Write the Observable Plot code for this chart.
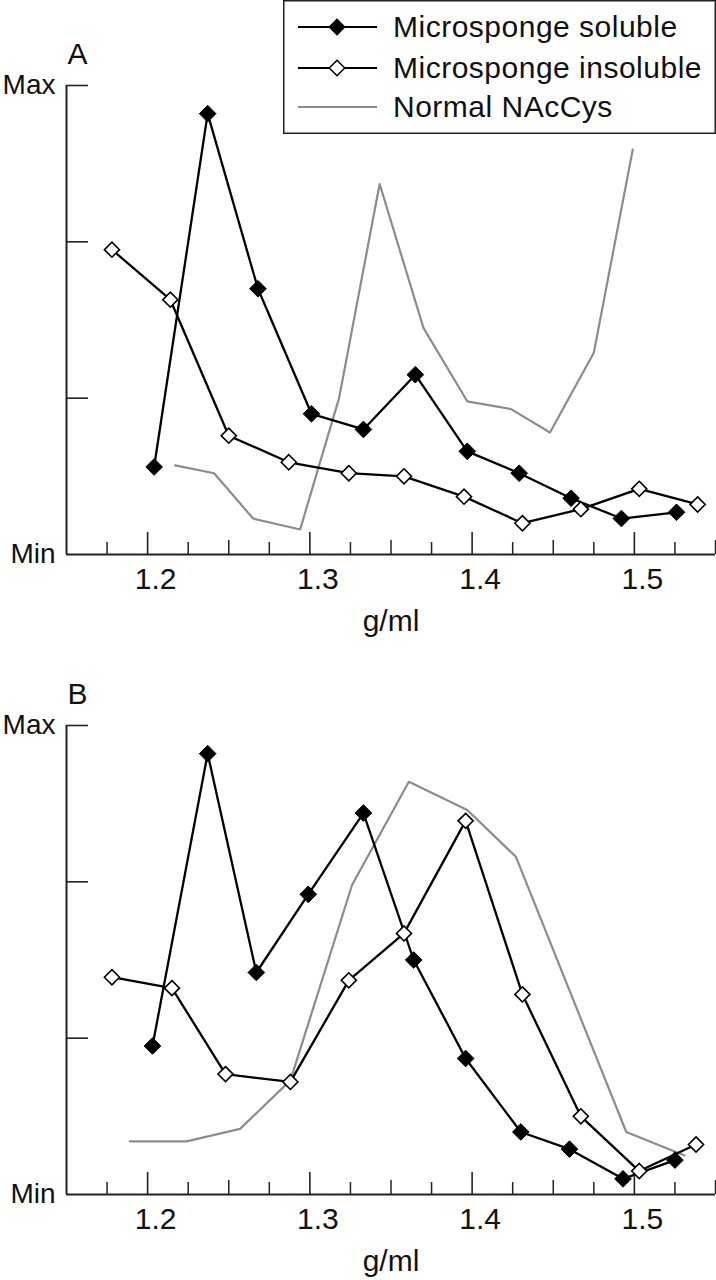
<!DOCTYPE html>
<html>
<head>
<meta charset="utf-8">
<script src="https://cdn.jsdelivr.net/npm/d3@7"></script>
<script src="https://cdn.jsdelivr.net/npm/@observablehq/plot@0.6"></script>
<style>
  html, body { margin: 0; padding: 0; background: #fff; }
  #wrap { position: relative; width: 716px; height: 1280px; overflow: hidden; }
  #wrap svg { display: block; }
  #legend { position: absolute; left: 283px; top: 0; }
</style>
</head>
<body>
<div id="wrap"><div id="legend"></div></div>
<script>
const FONT = '"Liberation Sans", Arial, sans-serif';
const AX = "#222";
const GRAY = "#8c8c8c";

// Axis definitions
const xDomain = [1.15, 1.55];
const yDomain = [0, 3];
const majorTicks = [1.2, 1.3, 1.4, 1.5];
const midTicks = [1.25, 1.35, 1.45, 1.55];
const minorTicks = [1.175, 1.225, 1.275, 1.325, 1.375, 1.425, 1.475, 1.525];
const yTicks = [1, 2, 3];
const yLabelValues = [3, 0];
const yLabelTexts = ["Max", "Min"];
const xLabel = "g/ml";

// Series names
const seriesNames = ["Microsponge soluble", "Microsponge insoluble", "Normal NAcCys"];

// Panel A
const aSolX = [1.204, 1.237, 1.268, 1.301, 1.333, 1.365, 1.397, 1.429, 1.461, 1.492, 1.526];
const aSolY = [0.56, 2.82, 1.70, 0.90, 0.80, 1.15, 0.66, 0.52, 0.36, 0.23, 0.27];
const aInsX = [1.178, 1.214, 1.250, 1.287, 1.324, 1.358, 1.395, 1.431, 1.467, 1.503, 1.539];
const aInsY = [1.95, 1.63, 0.76, 0.59, 0.52, 0.50, 0.37, 0.20, 0.29, 0.42, 0.32];
const aNorX = [1.217, 1.241, 1.265, 1.294, 1.318, 1.343, 1.370, 1.397, 1.424, 1.448, 1.475, 1.499];
const aNorY = [0.57, 0.52, 0.23, 0.16, 1.00, 2.37, 1.45, 0.98, 0.93, 0.78, 1.29, 2.59];

// Panel B
const bSolX = [1.203, 1.237, 1.267, 1.299, 1.333, 1.364, 1.396, 1.430, 1.460, 1.493, 1.525];
const bSolY = [0.95, 2.82, 1.42, 1.92, 2.44, 1.50, 0.87, 0.40, 0.29, 0.10, 0.22];
const bInsX = [1.178, 1.215, 1.248, 1.288, 1.324, 1.358, 1.396, 1.431, 1.467, 1.503, 1.538];
const bInsY = [1.39, 1.32, 0.77, 0.72, 1.37, 1.67, 2.39, 1.28, 0.50, 0.15, 0.32];
const bNorX = [1.189, 1.224, 1.257, 1.288, 1.326, 1.361, 1.397, 1.427, 1.495, 1.531];
const bNorY = [0.34, 0.34, 0.42, 0.73, 1.98, 2.64, 2.46, 2.16, 0.40, 0.25];

const W = 716, H = 640, ML = 66, MR = 1, MT = 85, MB = 86;
const FW = W - ML - MR, FH = H - MT - MB;

function rows(xs, ys) { return xs.map((x, i) => ({x, y: ys[i]})); }

function panel(label, solX, solY, insX, insY, norX, norY) {
  const S = rows(solX, solY), I = rows(insX, insY), N = rows(norX, norY);
  return Plot.plot({
    width: W, height: H,
    marginLeft: ML, marginRight: MR, marginTop: MT, marginBottom: MB,
    x: {domain: xDomain, axis: null},
    y: {domain: yDomain, axis: null},
    style: {fontFamily: FONT, background: "transparent", color: "#111"},
    marks: [
      Plot.ruleX([xDomain[0]], {stroke: AX, strokeWidth: 2}),
      Plot.ruleY([yDomain[0]], {stroke: AX, strokeWidth: 2}),
      Plot.tickY(yTicks, {y: d => d, insetRight: FW - 22, stroke: AX, strokeWidth: 1.6}),
      Plot.tickX(majorTicks, {x: d => d, insetTop: FH - 22, stroke: AX, strokeWidth: 1.6}),
      Plot.tickX(midTicks, {x: d => d, insetTop: FH - 14, stroke: AX, strokeWidth: 1.5}),
      Plot.tickX(minorTicks, {x: d => d, insetTop: FH - 12, stroke: AX, strokeWidth: 1.5}),
      Plot.text(majorTicks, {x: d => d, frameAnchor: "bottom", lineAnchor: "bottom", dy: 34, dx: 8,
        text: d => d.toFixed(1), fontSize: 30}),
      Plot.text(yLabelValues, {y: d => d, frameAnchor: "left", textAnchor: "end", lineAnchor: "middle",
        dx: -11, text: (d, i) => yLabelTexts[i], fontSize: 28}),
      Plot.text([xLabel], {frameAnchor: "bottom", lineAnchor: "bottom", dy: 76, fontSize: 30}),
      Plot.text([label], {frameAnchor: "top-left", textAnchor: "start", lineAnchor: "bottom",
        dx: 1, dy: -22, fontSize: 30}),
      Plot.line(N, {x: "x", y: "y", stroke: GRAY, strokeWidth: 2.2}),
      Plot.line(S, {x: "x", y: "y", stroke: "#000", strokeWidth: 2.3}),
      Plot.line(I, {x: "x", y: "y", stroke: "#000", strokeWidth: 2.3}),
      Plot.dot(S, {x: "x", y: "y", symbol: "diamond2", r: 7.5, fill: "#000", stroke: "#000", strokeWidth: 1}),
      Plot.dot(I, {x: "x", y: "y", symbol: "diamond2", r: 6.8, fill: "#fff", stroke: "#000", strokeWidth: 1.6})
    ]
  });
}

const wrap = document.getElementById("wrap");
wrap.insertBefore(panel("A", aSolX, aSolY, aInsX, aInsY, aNorX, aNorY), wrap.firstChild);
wrap.insertBefore(panel("B", bSolX, bSolY, bInsX, bInsY, bNorX, bNorY), document.getElementById("legend"));

// Legend (HTML-positioned SVG)
(function () {
  const lw = 433, lh = 134;
  const cy = [27, 68, 107];
  const svg = d3.create("svg").attr("width", lw).attr("height", lh)
    .style("font-family", FONT);
  svg.append("rect").attr("x", 0.75).attr("y", 0.75).attr("width", lw - 1.5).attr("height", lh - 1.5)
    .attr("fill", "#fff").attr("stroke", AX).attr("stroke-width", 1.5);
  const sym = d3.symbol().type(d3.symbolDiamond2);
  seriesNames.forEach((name, i) => {
    const g = svg.append("g").attr("transform", `translate(0,${cy[i]})`);
    g.append("line").attr("x1", 15).attr("x2", 94).attr("y1", 0).attr("y2", 0)
      .attr("stroke", i === 2 ? GRAY : "#000").attr("stroke-width", 2.2);
    if (i === 0) g.append("path").attr("d", sym.size(Math.PI * 7.8 * 7.8)()).attr("transform", "translate(54,0)")
      .attr("fill", "#000");
    if (i === 1) g.append("path").attr("d", sym.size(Math.PI * 7 * 7)()).attr("transform", "translate(54,0)")
      .attr("fill", "#fff").attr("stroke", "#000").attr("stroke-width", 1.5);
    g.append("text").attr("x", 110).attr("y", 10).attr("font-size", 30)
      .attr("letter-spacing", "0.5px").attr("fill", "#111").text(name);
  });
  document.getElementById("legend").appendChild(svg.node());
})();
</script>
</body>
</html>
